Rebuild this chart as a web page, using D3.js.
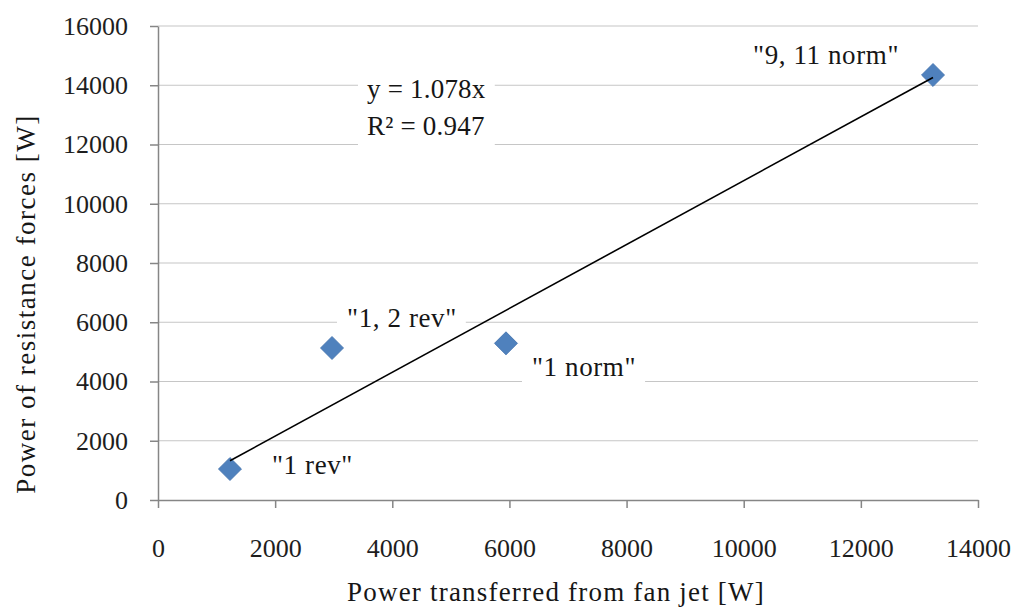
<!DOCTYPE html>
<html>
<head>
<meta charset="utf-8">
<script src="https://cdn.jsdelivr.net/npm/d3@7"></script>
<style>
  body { margin: 0; background: #fff; }
  svg { display: block; font-family: "Liberation Serif", "DejaVu Serif", serif; }
  .axis path, .axis line { stroke: #868686; stroke-width: 1.5; }
  .axis text { font-size: 26px; fill: #1e1e1e; font-family: "Liberation Serif", serif; }
  .grid { stroke: #c6c6c6; stroke-width: 1.2; }
  .label { font-size: 27px; fill: #161616; letter-spacing: 0.6px; }
</style>
</head>
<body>
<svg width="1015" height="610"></svg>
<script>
// точки: мощность от вентилятора (x) и мощность сил сопротивления (y)
const pointNames = ['"1 rev"', '"1, 2 rev"', '"1 norm"', '"9, 11 norm"'];
const fanPower = [1229, 2971, 5941, 13232];
const resistPower = [1046, 5131, 5289, 14346];

const xTicks = [0, 2000, 4000, 6000, 8000, 10000, 12000, 14000];
const yTicks = [0, 2000, 4000, 6000, 8000, 10000, 12000, 14000, 16000];

const trendSlope = 1.078;
const trendLines = ['y = 1.078x', 'R² = 0.947'];

const PLOT = { left: 158, right: 978, top: 26, bottom: 500 };

const svg = d3.select('svg');

const x = d3.scaleLinear().domain([0, 14000]).range([PLOT.left, PLOT.right]);
const y = d3.scaleLinear().domain([0, 16000]).range([PLOT.bottom, PLOT.top]);

// горизонтальная сетка
svg.append('g')
  .selectAll('line')
  .data(yTicks.filter(d => d > 0))
  .enter()
  .append('line')
  .attr('class', 'grid')
  .attr('x1', PLOT.left)
  .attr('x2', PLOT.right)
  .attr('y1', d => y(d))
  .attr('y2', d => y(d));

svg.append('g')
  .attr('class', 'axis')
  .attr('transform', `translate(${PLOT.left},0)`)
  .call(d3.axisLeft(y).tickValues(yTicks).tickFormat(d3.format('d')).tickSize(8).tickSizeOuter(0).tickPadding(22));

svg.append('g')
  .attr('class', 'axis')
  .attr('transform', `translate(0,${PLOT.bottom})`)
  .call(d3.axisBottom(x).tickValues(xTicks).tickFormat(d3.format('d')).tickSize(8).tickSizeOuter(0).tickPadding(31));

// подписи точек (смещения от маркера в пикселях)
const labelOffsets = [
  { dx: 42, dy: 5, anchor: 'start' },
  { dx: 15, dy: -21, anchor: 'start' },
  { dx: 26, dy: 33, anchor: 'start' },
  { dx: -34, dy: -11, anchor: 'end' },
];

const points = pointNames.map((name, i) => ({ name, fx: fanPower[i], ry: resistPower[i], off: labelOffsets[i] }));

const bgLayer = svg.append('g');
const textLayer = svg.append('g');

function addBox(textSel, padL, padR, padT, padB) {
  const b = textSel.node().getBBox();
  bgLayer.append('rect')
    .attr('x', b.x - padL)
    .attr('y', b.y - padT)
    .attr('width', b.width + padL + padR)
    .attr('height', b.height + padT + padB)
    .attr('fill', '#fff');
}

// маркеры-ромбы
const diamond = d3.symbol().type(d3.symbolSquare).size(265);
svg.append('g')
  .selectAll('path')
  .data(points)
  .enter()
  .append('path')
  .attr('d', diamond)
  .attr('transform', d => `translate(${x(d.fx)},${y(d.ry)}) rotate(45)`)
  .attr('fill', '#4f81bd')
  .attr('stroke', '#4373ad')
  .attr('stroke-width', 0.8);

// линия тренда поверх маркеров
const xMin = d3.min(fanPower);
const xMax = d3.max(fanPower);

svg.append('line')
  .attr('x1', x(xMin))
  .attr('y1', y(trendSlope * xMin))
  .attr('x2', x(xMax))
  .attr('y2', y(trendSlope * xMax))
  .attr('stroke', '#000')
  .attr('stroke-width', 1.6);

points.forEach(d => {
  const t = textLayer.append('text')
    .attr('class', 'label')
    .attr('x', x(d.fx) + d.off.dx)
    .attr('y', y(d.ry) + d.off.dy)
    .attr('text-anchor', d.off.anchor)
    .text(d.name);
  addBox(t, 10, 9, 3, 6);
});

// уравнение тренда
const eq = textLayer.append('text')
  .attr('class', 'label')
  .style('letter-spacing', '0.2px')
  .attr('x', 367)
  .attr('y', 98);
eq.selectAll('tspan')
  .data(trendLines)
  .enter()
  .append('tspan')
  .attr('x', 367)
  .attr('dy', (d, i) => i === 0 ? 0 : 37)
  .text(d => d);
addBox(eq, 9, 9, 3, 8);

// подписи осей
svg.append('text')
  .attr('class', 'label')
  .attr('x', (PLOT.left + PLOT.right) / 2 - 12)
  .attr('y', 601)
  .attr('text-anchor', 'middle')
  .style('letter-spacing', '1.2px')
  .text('Power transferred from fan jet [W]');

svg.append('text')
  .attr('class', 'label')
  .attr('transform', 'translate(35,304) rotate(-90)')
  .attr('text-anchor', 'middle')
  .style('font-size', '27px')
  .style('letter-spacing', '1.5px')
  .text('Power of resistance forces [W]');
</script>
</body>
</html>
